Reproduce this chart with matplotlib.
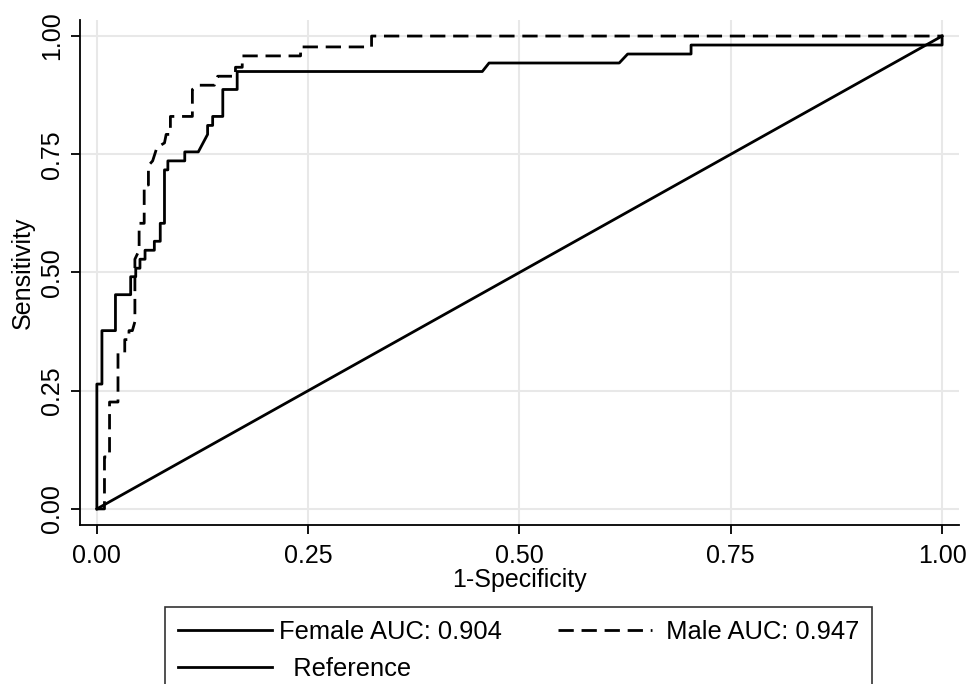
import matplotlib
matplotlib.use('Agg')
import matplotlib.pyplot as plt

plt.rcParams['font.family'] = ['Liberation Sans', 'DejaVu Sans']

# ROC-Punkte
female_fpr = [0, 0, 0.006, 0.006, 0.022, 0.022, 0.040, 0.040, 0.046, 0.046, 0.051, 0.051,
              0.057, 0.057, 0.068, 0.068, 0.075, 0.075, 0.080, 0.080, 0.084, 0.084, 0.104,
              0.104, 0.120, 0.131, 0.131, 0.137, 0.137, 0.149, 0.149, 0.166, 0.166, 0.456,
              0.464, 0.618, 0.628, 0.703, 0.703, 1.0, 1.0]
female_tpr = [0, 0.264, 0.264, 0.377, 0.377, 0.453, 0.453, 0.491, 0.491, 0.509, 0.509, 0.528,
              0.528, 0.547, 0.547, 0.566, 0.566, 0.604, 0.604, 0.717, 0.717, 0.736, 0.736,
              0.755, 0.755, 0.792, 0.811, 0.811, 0.830, 0.830, 0.887, 0.887, 0.925, 0.925,
              0.943, 0.943, 0.962, 0.962, 0.981, 0.981, 1.0]

male_fpr = [0, 0.009, 0.009, 0.015, 0.015, 0.025, 0.025, 0.033, 0.033, 0.038, 0.038, 0.042,
            0.045, 0.045, 0.050, 0.050, 0.056, 0.056, 0.061, 0.061, 0.066, 0.071, 0.080,
            0.082, 0.087, 0.087, 0.113, 0.113, 0.120, 0.139, 0.143, 0.153, 0.164, 0.164,
            0.172, 0.172, 0.241, 0.241, 0.325, 0.325, 1.0]
male_tpr = [0, 0, 0.110, 0.110, 0.226, 0.226, 0.330, 0.330, 0.358, 0.358, 0.377, 0.377,
            0.396, 0.528, 0.547, 0.604, 0.604, 0.685, 0.685, 0.726, 0.736, 0.764, 0.774,
            0.792, 0.792, 0.830, 0.830, 0.887, 0.896, 0.896, 0.915, 0.915, 0.915, 0.934,
            0.934, 0.958, 0.958, 0.977, 0.977, 1.0, 1.0]

ref_x = [0, 1]
ref_y = [0, 1]

ticks = [0, 0.25, 0.5, 0.75, 1.0]
tick_labels = ['0.00', '0.25', '0.50', '0.75', '1.00']

labels = ['Female AUC: 0.904', ' Male AUC: 0.947', '  Reference']

fig = plt.figure(figsize=(9.68, 6.84), dpi=100)
ax = fig.add_axes([0.0826, 0.2325, 0.9081, 0.7383])

ax.grid(True, color='#e8e8e8', linewidth=1.5, zorder=0)
ax.set_axisbelow(True)

lf, = ax.plot(female_fpr, female_tpr, color='black', linewidth=2.0, zorder=3)
lm, = ax.plot(male_fpr, male_tpr, color='black', linewidth=2.0, linestyle=(0, (5.5, 2.8)), zorder=3)
lr, = ax.plot(ref_x, ref_y, color='black', linewidth=2.0, zorder=3)

ax.set_xlim(-0.02, 1.02)
ax.set_ylim(-0.034, 1.034)
ax.set_xticks(ticks)
ax.set_xticklabels(tick_labels)
ax.set_yticks(ticks)
ax.set_yticklabels(tick_labels, rotation=90, va='center')

for s in ['top', 'right']:
    ax.spines[s].set_visible(False)
for s in ['left', 'bottom']:
    ax.spines[s].set_linewidth(1.3)

ax.tick_params(axis='both', length=6.5, width=1.3, labelsize=18, direction='out')
ax.tick_params(axis='x', pad=7)
ax.tick_params(axis='y', pad=5)

ax.set_xlabel('1-Specificity', fontsize=18, labelpad=0)
ax.set_ylabel('Sensitivity', fontsize=18, labelpad=4)

leg = fig.legend([lf, lr, lm], [labels[0], labels[2], labels[1]], ncol=2,
                 loc='upper left', bbox_to_anchor=(165 / 968, 1 - 607 / 684),
                 fontsize=18.4, frameon=True, fancybox=False, edgecolor='black',
                 handlelength=3.7, handletextpad=0.25, columnspacing=2.2,
                 borderpad=0.5, labelspacing=0.5, borderaxespad=0)
leg.get_frame().set_linewidth(1.2)

fig.savefig('out.png', dpi=100)
